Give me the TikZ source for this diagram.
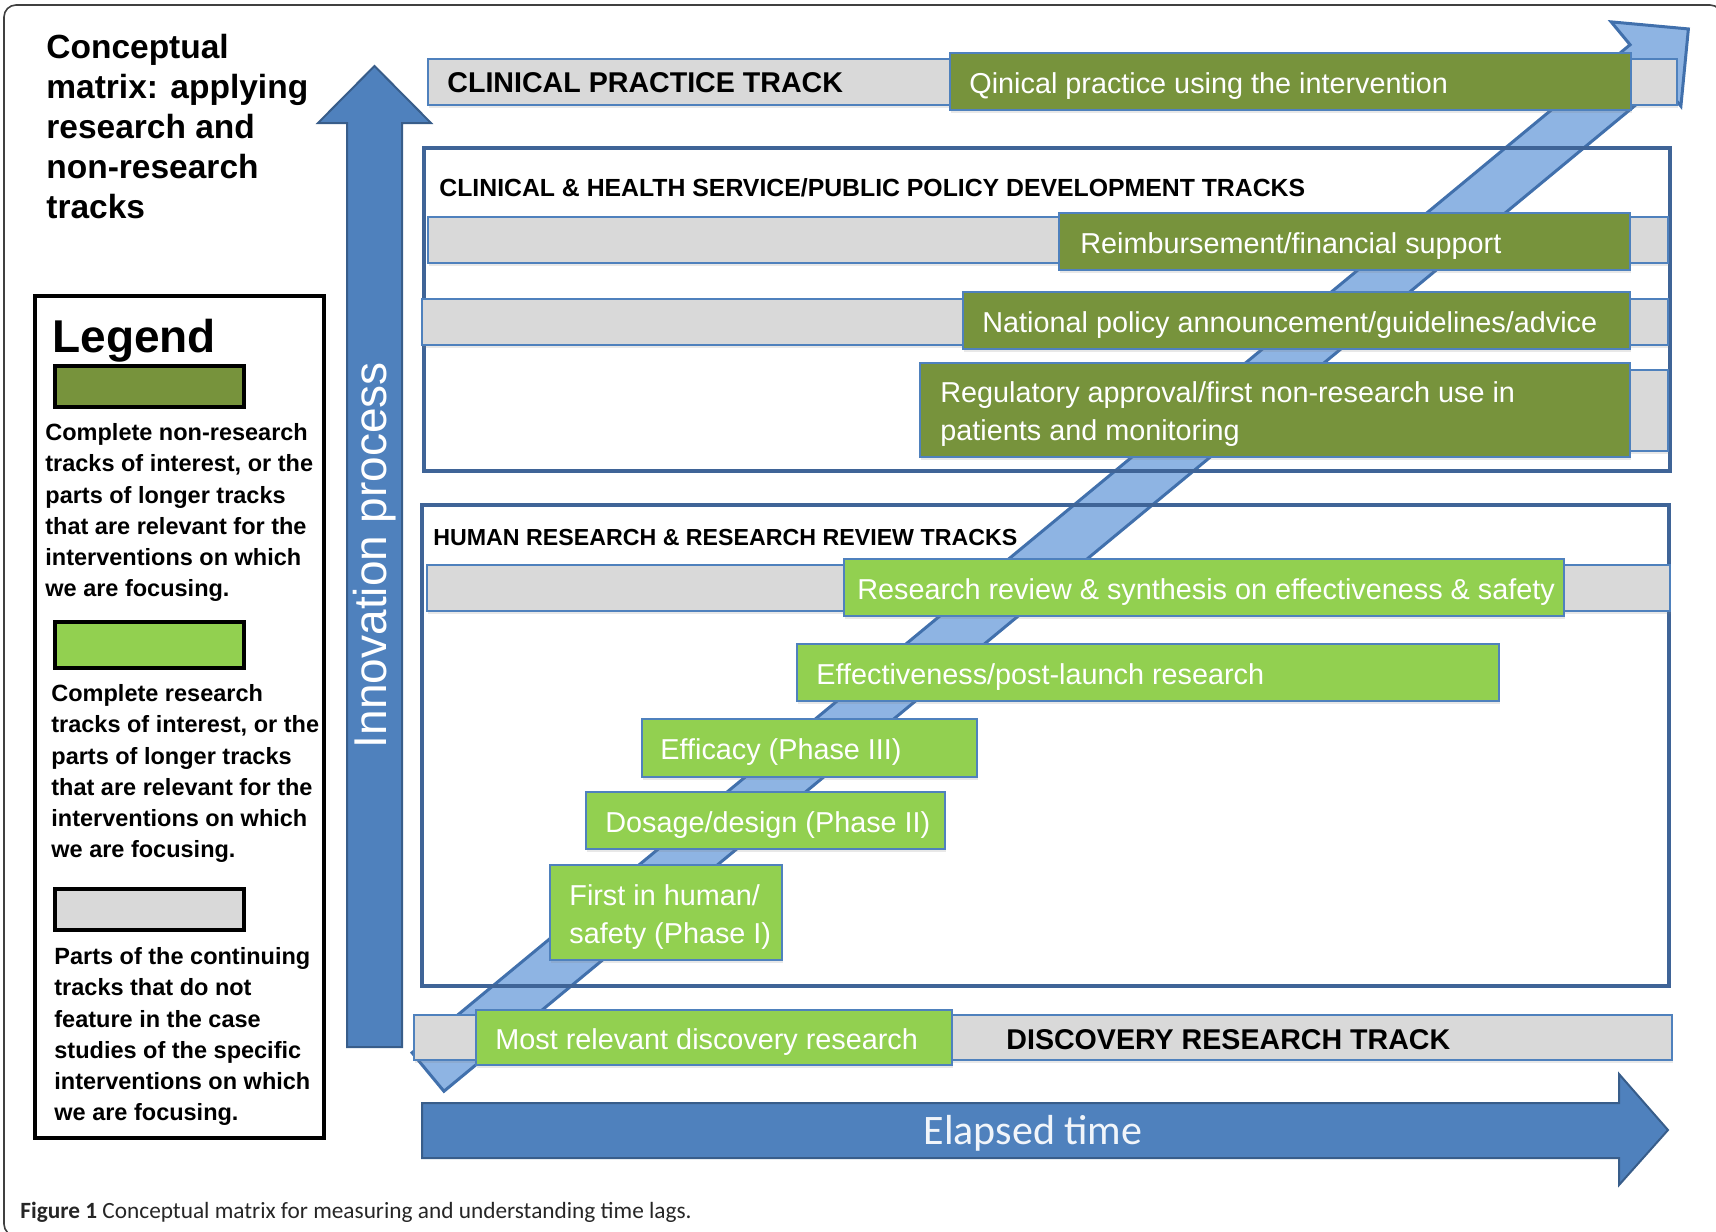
\documentclass[tikz,border=0pt]{standalone}
\usepackage{fontspec}
\setmainfont{Liberation Sans}
\newfontfamily\calibri{Carlito}
\usepackage{xcolor}
\definecolor{myblue}{HTML}{4F81BD}
\definecolor{darkblue}{HTML}{385D8A}
\definecolor{boxblue}{HTML}{3F6497}
\definecolor{bandblue}{HTML}{8EB4E3}
\definecolor{bandline}{HTML}{4170AC}
\definecolor{darkgreen}{HTML}{77933C}
\definecolor{lightgreen}{HTML}{92D050}
\definecolor{lightgrey}{HTML}{D9D9D9}
\usetikzlibrary{positioning,shadows,calc,fit}

\begin{document}
\begin{tikzpicture}[x=0.5pt,y=-0.5pt,
    barshadow/.style={drop shadow={shadow xshift=0.5pt,shadow yshift=-1.5pt,opacity=0.18}},
    graybar/.style={draw=myblue,fill=lightgrey,line width=1pt,inner sep=0pt,barshadow},
    greenbar/.style={draw=myblue,fill=darkgreen,line width=1pt,inner sep=0pt,barshadow},
    resbar/.style={draw=myblue,fill=lightgreen,line width=1pt,inner sep=0pt,barshadow},
    trackbox/.style={draw=boxblue,line width=2pt,inner sep=0pt},
    swatch/.style={draw=black,line width=1.75pt,inner sep=0pt},
    bartext/.style={inner sep=0pt,yshift=-2.2pt,text=white,align=left,font=\fontsize{14.4}{19}\selectfont},
    heading/.style={anchor=west,inner sep=0pt,font=\bfseries\fontsize{12.4}{14}\selectfont},
    keytext/.style={anchor=north west,inner sep=0pt,align=left,font=\bfseries\fontsize{11.75}{15.65}\selectfont}]
    \useasboundingbox (0,0) rectangle (1716,1231);
    % \draw[style=help lines,step=50] (0,0) grid (1716,1231);

    \draw[rounded corners=6pt,line width=0.8pt,black!75] (4,5) rectangle (1722,1236);

    % title and legend
    \node[anchor=north west,inner sep=0pt,align=left,font=\bfseries\fontsize{16.75}{20}\selectfont] (title) at (46,34) {Conceptual\\matrix: applying\\research and\\non-research\\tracks};

    \node[draw=black,line width=2pt,inner sep=0pt,fit={(35,296) (324,1138)}] (legend) {};
    \node[anchor=base west,inner sep=0pt,font=\bfseries\fontsize{23}{23}\selectfont] (legendtitle) at (52,352) {Legend};
    \node[swatch,fill=darkgreen,fit={(55,366) (244,407)}] (keynonres) {};
    \node[keytext] (keynonrestext) at (45,423) {Complete non-research\\tracks of interest, or the\\parts of longer tracks\\that are relevant for the\\interventions on which\\we are focusing.};
    \node[swatch,fill=lightgreen,fit={(55,622) (244,668)}] (keyres) {};
    \node[keytext] (keyrestext) at (51,684) {Complete research\\tracks of interest, or the\\parts of longer tracks\\that are relevant for the\\interventions on which\\we are focusing.};
    \node[swatch,fill=lightgrey,fit={(55,889) (244,930)}] (keycont) {};
    \node[keytext] (keyconttext) at (54,947) {Parts of the continuing\\tracks that do not\\feature in the case\\studies of the specific\\interventions on which\\we are focusing.};

    % axes
    \coordinate (innotip) at (374.5,66);
    \draw[fill=myblue,draw=darkblue,line width=1pt] (innotip) -- (431,123) -- (402,123) -- (402,1047) -- (347,1047) -- (347,123) -- (318,123) -- cycle;
    \node[rotate=90,inner sep=0pt,text=white,font=\fontsize{23}{23}\selectfont] (innotext) at (374.5,555) {Innovation process};

    \coordinate (timetip) at (1668,1130);
    \draw[fill=myblue,draw=darkblue,line width=1pt] (timetip) -- (1619,1185) -- (1619,1158) -- (422,1158) -- (422,1103) -- (1619,1103) -- (1619,1074) -- cycle;
    \node[inner sep=0pt,text=white!92!myblue,font=\calibri\fontsize{21}{21}\selectfont] (timetext) at (1033,1133) {Elapsed time};

    % diagonal band
    \coordinate (T) at (428,1072);
    \coordinate (H) at (1646,64);
    \draw[fill=bandblue,draw=bandline,line width=1.5pt,line join=miter]
        ($(T)!12.5pt!90:(H)$) -- ($(H)!12.5pt!-90:(T)$) -- ($(H)!27.35pt!-90:(T)$)
        -- ($(H)!-27.5pt!(T)$) -- ($(H)!27.35pt!90:(T)$) -- ($(H)!12.5pt!90:(T)$)
        -- ($(T)!12.5pt!-90:(H)$) -- cycle;

    % track groups
    \node[trackbox,fit={(424,148) (1670,471)}] (chbox) {};
    \node[heading] (chtitle) at (439,188) {CLINICAL \& HEALTH SERVICE/PUBLIC POLICY DEVELOPMENT TRACKS};
    \node[trackbox,fit={(422,505) (1669,986)}] (hrbox) {};
    \node[heading,font=\bfseries\fontsize{11.6}{14}\selectfont] (hrtitle) at (433,537.5) {HUMAN RESEARCH \& RESEARCH REVIEW TRACKS};

    % clinical practice
    \node[graybar,fit={(428,59) (1677,105)}] (cpgray) {};
    \node[heading,font=\bfseries\fontsize{14.3}{16}\selectfont] (cptitle) at (447,83) {CLINICAL PRACTICE TRACK};
    \node[greenbar,fit={(950,53) (1631,110)}] (cpgreen) {};
    \node[bartext,right=10pt of cpgreen.west] (cptext) {Qinical practice using the intervention};

    % policy tracks
    \node[graybar,fit={(428,217) (1668,263)}] (reimgray) {};
    \node[greenbar,fit={(1059,213) (1630,270)}] (reimgreen) {};
    \node[bartext,right=11pt of reimgreen.west] (reimtext) {Reimbursement/financial support};

    \node[graybar,fit={(422,299) (1668,345)}] (natgray) {};
    \node[greenbar,fit={(963,292) (1630,349)}] (natgreen) {};
    \node[bartext,right=10pt of natgreen.west] (nattext) {National policy announcement/guidelines/advice};

    \node[graybar,fit={(1000,370) (1668,451)}] (reggray) {};
    \node[greenbar,fit={(920,363) (1630,457)}] (reggreen) {};
    \node[bartext,right=10.5pt of reggreen.west] (regtext) {Regulatory approval/first non-research use in\\patients and monitoring};

    % research tracks
    \node[graybar,fit={(427,565) (1670,611)}] (revgray) {};
    \node[resbar,fit={(844,559) (1564,616)}] (revgreen) {};
    \node[bartext,right=7pt of revgreen.west] (revtext) {Research review \& synthesis on effectiveness \& safety};

    \node[resbar,fit={(797,644) (1499,701)}] (effgreen) {};
    \node[bartext,right=10pt of effgreen.west] (efftext) {Effectiveness/post-launch research};

    \node[resbar,fit={(642,719) (977,777)}] (efcgreen) {};
    \node[bartext,right=9.5pt of efcgreen.west] (efctext) {Efficacy (Phase III)};

    \node[resbar,fit={(586,792) (945,849)}] (dosgreen) {};
    \node[bartext,right=10pt of dosgreen.west] (dostext) {Dosage/design (Phase II)};

    \node[resbar,fit={(550,865) (782,960)}] (firstgreen) {};
    \node[bartext,right=10pt of firstgreen.west] (firsttext) {First in human/\\safety (Phase I)};

    % discovery
    \node[graybar,fit={(414,1015) (1672,1060)}] (discgray) {};
    \node[heading,font=\bfseries\fontsize{14.3}{16}\selectfont] (disctitle) at (1006,1040) {DISCOVERY RESEARCH TRACK};
    \node[resbar,fit={(476,1010) (952,1065)}] (discgreen) {};
    \node[bartext,right=10pt of discgreen.west] (disctext) {Most relevant discovery research};

    \node[anchor=west,inner sep=0pt,text=black!85,font=\calibri\fontsize{11.65}{12}\selectfont] (caption) at (20,1212) {\textbf{Figure 1} Conceptual matrix for measuring and understanding time lags.};
\end{tikzpicture}
\end{document}
